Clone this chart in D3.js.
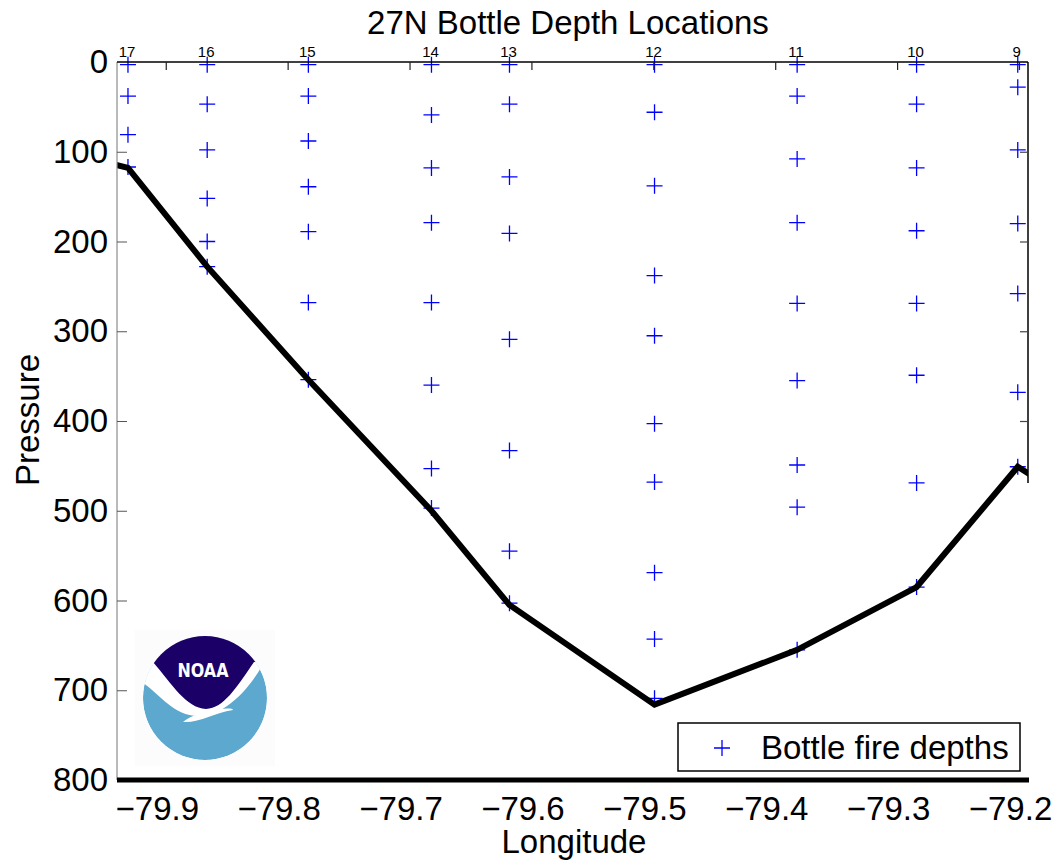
<!DOCTYPE html>
<html>
<head>
<meta charset="utf-8">
<script src="https://cdn.jsdelivr.net/npm/d3@7"></script>
<style>
  html, body { margin: 0; padding: 0; background: #fff; }
  svg { display: block; font-family: "Liberation Sans", Arial, Helvetica, sans-serif; }
</style>
</head>
<body>
<svg id="chart" width="1059" height="865"></svg>
<script>
// ---------------- data ----------------
const stationIds = [17, 16, 15, 14, 13, 12, 11, 10, 9];
const stationLon = [-79.931, -79.866, -79.783, -79.682, -79.618, -79.499, -79.382, -79.284, -79.201];
const bottles17 = [3, 38, 81, 117];
const bottles16 = [3, 47, 98, 152, 200, 228];
const bottles15 = [3, 38, 88, 139, 189, 268, 354];
const bottles14 = [3, 59, 118, 179, 268, 360, 453, 497];
const bottles13 = [3, 47, 128, 191, 309, 433, 545, 603];
const bottles12 = [3, 56, 138, 238, 305, 403, 468, 569, 643, 709];
const bottles11 = [3, 38, 108, 179, 269, 355, 449, 496, 655];
const bottles10 = [3, 47, 118, 188, 269, 349, 469, 585];
const bottles9  = [3, 28, 98, 180, 258, 368, 451];
const bottleSets = [bottles17, bottles16, bottles15, bottles14, bottles13, bottles12, bottles11, bottles10, bottles9];
const bottomLon = [-79.96, -79.931, -79.866, -79.783, -79.682, -79.618, -79.499, -79.382, -79.284, -79.201, -79.18];
const bottomPres = [108, 118, 228, 354, 500, 605, 716, 655, 585, 451, 469];
const xTicks = [-79.9, -79.8, -79.7, -79.6, -79.5, -79.4, -79.3, -79.2];
const yTicks = [0, 100, 200, 300, 400, 500, 600, 700, 800];
const titleText = "27N Bottle Depth Locations";
const xLabel = "Longitude";
const yLabel = "Pressure";
const legendLabel = "Bottle fire depths";

// ---------------- layout ----------------
const svg = d3.select("#chart");
const L = 117, T = 62, R = 1028, B = 780;
const x = d3.scaleLinear().domain([-79.94, -79.1926]).range([L, R]);
const y = d3.scaleLinear().domain([0, 800]).range([T, B]);
const FS = 33;

svg.append("defs").append("clipPath").attr("id", "plotclip")
  .append("rect").attr("x", L).attr("y", T - 20).attr("width", R - L).attr("height", B - T + 20);

// bottle points
const pts = [];
bottleSets.forEach((arr, i) => arr.forEach(p => pts.push({lon: stationLon[i], p})));
const plusPath = "M-8,0H8M0,-8V8";
svg.append("g").selectAll("path").data(pts).join("path")
  .attr("transform", d => `translate(${x(d.lon)},${y(d.p)})`)
  .attr("d", plusPath)
  .attr("stroke", "#0000ff").attr("stroke-width", 1.3).attr("fill", "none");

// bathymetry line
const bottomData = bottomLon.map((lon, i) => ({lon, p: bottomPres[i]}));
svg.append("path").datum(bottomData)
  .attr("clip-path", "url(#plotclip)")
  .attr("d", d3.line().x(d => x(d.lon)).y(d => y(d.p)))
  .attr("fill", "none").attr("stroke", "#000").attr("stroke-width", 6)
  .attr("stroke-linejoin", "miter");

// axes
svg.append("line").attr("x1", L).attr("x2", L).attr("y1", T).attr("y2", B)
  .attr("stroke", "#8c8c8c").attr("stroke-width", 1.2);
svg.append("line").attr("x1", R).attr("x2", R).attr("y1", T).attr("y2", y(bottomPres[bottomPres.length-1]))
  .attr("stroke", "#000").attr("stroke-width", 1.5);
svg.append("line").attr("x1", L).attr("x2", R).attr("y1", T).attr("y2", T)
  .attr("stroke", "#000").attr("stroke-width", 1.5);

// top ticks (inward)
const topAxis = d3.axisTop(x).tickValues(xTicks).tickSize(-8).tickFormat("");
const gTop = svg.append("g").attr("transform", `translate(0,${T})`).call(topAxis);
gTop.select(".domain").remove();
gTop.selectAll("line").attr("stroke", "#222").attr("stroke-width", 1.2);

// left y ticks + labels
const leftAxis = d3.axisLeft(y).tickValues(yTicks).tickSize(-10).tickPadding(9).tickFormat(d3.format("d"));
const gLeft = svg.append("g").attr("transform", `translate(${L},0)`).call(leftAxis);
gLeft.select(".domain").remove();
gLeft.selectAll("line").attr("stroke", "#555").attr("stroke-width", 1)
  .filter(d => d === 0 || d === 800).remove();
gLeft.selectAll("text").attr("font-size", FS).attr("fill", "#000")
  .attr("font-family", "Liberation Sans, Arial, sans-serif");

// right ticks (inward)
const rightAxis = d3.axisRight(y).tickValues(yTicks.filter(v => v > 0 && v < 500)).tickSize(-8).tickFormat("");
const gRight = svg.append("g").attr("transform", `translate(${R},0)`).call(rightAxis);
gRight.select(".domain").remove();
gRight.selectAll("line").attr("stroke", "#444").attr("stroke-width", 1.2);

// bottom thick line
svg.append("line").attr("x1", L).attr("x2", R + 1).attr("y1", B).attr("y2", B)
  .attr("stroke", "#000").attr("stroke-width", 5);

// bottom labels
const bottomAxis = d3.axisBottom(x).tickValues(xTicks).tickSize(0).tickPadding(17)
  .tickFormat(d3.format(".1f"));
const gBot = svg.append("g").attr("transform", `translate(0,${B})`).call(bottomAxis);
gBot.select(".domain").remove();
gBot.selectAll("text").attr("font-size", FS).attr("fill", "#000").attr("dx", -9)
  .attr("font-family", "Liberation Sans, Arial, sans-serif");

// station labels
svg.append("g").selectAll("text").data(stationIds).join("text")
  .attr("x", (d, i) => x(stationLon[i]) - 1)
  .attr("y", 57)
  .attr("text-anchor", "middle")
  .attr("font-size", 15)
  .text(d => d);

// titles
svg.append("text").attr("x", 568).attr("y", 34).attr("text-anchor", "middle")
  .attr("font-size", FS).text(titleText);
svg.append("text").attr("x", 574).attr("y", 853).attr("text-anchor", "middle")
  .attr("font-size", FS).text(xLabel);
svg.append("text").attr("transform", "translate(39,420) rotate(-90)").attr("text-anchor", "middle")
  .attr("font-size", FS).text(yLabel);

// NOAA logo
const logo = svg.append("g");
const cx = 205, cy = 698, r = 62;
logo.append("rect").attr("x", 135).attr("y", 630).attr("width", 140).attr("height", 136).attr("fill", "#fcfcfc");
const defs = svg.select("defs");
defs.append("clipPath").attr("id", "logoclip").append("circle").attr("cx", cx).attr("cy", cy).attr("r", r);
const lg = logo.append("g").attr("clip-path", "url(#logoclip)");
lg.append("circle").attr("cx", cx).attr("cy", cy).attr("r", r).attr("fill", "#5ca8cf");
lg.append("path").attr("fill", "#fff")
  .attr("d", "M120,674 C152,676 165,716 198,716 C225,716 248,690 262,666 L275,655 L275,620 L120,620 Z");
lg.append("path").attr("fill", "#1b0068")
  .attr("d", "M120,660 L153,662 C172,684 186,708 206,709 C224,708 236,688 254,662 L290,660 L290,620 L120,620 Z");
lg.append("path").attr("fill", "#fff")
  .attr("d", "M183,722 C200,723 214,713 233,710 C233,708 222,708 208,711 C198,714 190,716 183,722 Z");
logo.append("text").attr("x", 203).attr("y", 677).attr("text-anchor", "middle")
  .attr("font-size", 19).attr("font-weight", "bold").attr("fill", "#fff")
  .attr("font-family", "DejaVu Sans Condensed, DejaVu Sans, sans-serif")
  .attr("textLength", 51).attr("lengthAdjust", "spacingAndGlyphs")
  .text("NOAA");

// legend
const lgd = svg.append("g");
lgd.append("rect").attr("x", 678).attr("y", 723).attr("width", 342).attr("height", 48)
  .attr("fill", "#fff").attr("stroke", "#000").attr("stroke-width", 1.5);
lgd.append("path").attr("transform", "translate(722,748)").attr("d", plusPath)
  .attr("stroke", "#0000ff").attr("stroke-width", 1.3).attr("fill", "none");
lgd.append("text").attr("x", 761).attr("y", 759).attr("font-size", FS).text(legendLabel);
</script>
</body>
</html>
